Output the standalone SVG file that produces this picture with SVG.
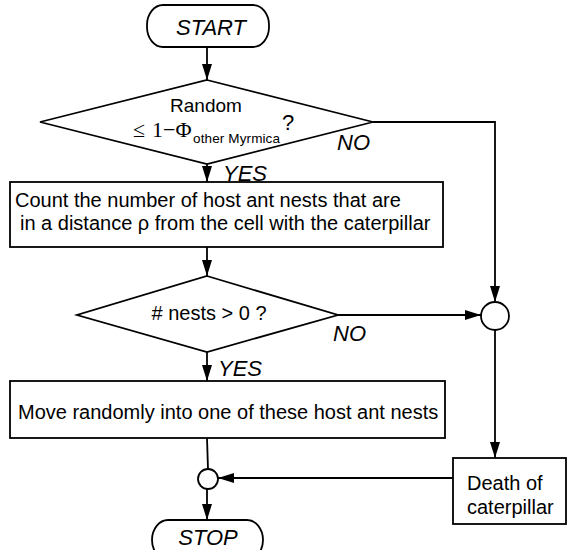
<svg xmlns="http://www.w3.org/2000/svg" width="568" height="550" viewBox="0 0 568 550">
<defs>
<style>
.shape{fill:#fff;stroke:#000;stroke-width:1.8}
.line{fill:none;stroke:#000;stroke-width:1.8}
.t{font-family:"Liberation Sans",Arial,sans-serif;font-size:20px;fill:#000}
.lbl{font-family:"Liberation Sans",Arial,sans-serif;font-size:22px;font-style:italic;fill:#000}
.ser{font-family:"Liberation Serif","Times New Roman",serif;font-size:22px;fill:#000}
</style>
<marker id="ah" markerUnits="userSpaceOnUse" markerWidth="16" markerHeight="11" refX="16" refY="5" orient="auto">
<path d="M0,0 L16,5 L0,10 z" fill="#000"/>
</marker>
</defs>
<rect width="568" height="550" fill="#fff"/>
<g id="connectors">
<line class="line" x1="207" y1="47" x2="207" y2="80" marker-end="url(#ah)"/>
<line class="line" x1="207" y1="164" x2="207" y2="182" marker-end="url(#ah)"/>
<polyline class="line" points="373,122 495,122 495,302" marker-end="url(#ah)"/>
<line class="line" x1="207" y1="247" x2="207" y2="276" marker-end="url(#ah)"/>
<line class="line" x1="338" y1="315" x2="481" y2="315" marker-end="url(#ah)"/>
<line class="line" x1="207" y1="352" x2="207" y2="381" marker-end="url(#ah)"/>
<line class="line" x1="495" y1="329" x2="495" y2="458" marker-end="url(#ah)"/>
<line class="line" x1="207" y1="438" x2="208" y2="469"/>
<line class="line" x1="453" y1="478" x2="218" y2="478" marker-end="url(#ah)"/>
<line class="line" x1="207" y1="489" x2="207" y2="520" marker-end="url(#ah)"/>
<text class="lbl" x="337" y="150">NO</text>
<text class="lbl" x="223" y="181">YES</text>
<text class="lbl" x="333" y="341">NO</text>
<text class="lbl" x="218" y="376">YES</text>
</g>
<g id="start">
<rect class="shape" x="147" y="5" width="122" height="42" rx="16" ry="20"/>
<text class="lbl" x="211" y="35" text-anchor="middle">START</text>
</g>
<g id="decision1">
<polygon class="shape" points="207,80 373,122 207,164 40,122"/>
<text class="t" x="206" y="112" text-anchor="middle" style="font-size:19px">Random</text>
<text class="ser" x="133" y="137">≤</text>
<text class="ser" x="152" y="137">1−Φ</text>
<text class="t" x="193" y="143" style="font-size:13.5px" textLength="87" lengthAdjust="spacing">other Myrmica</text>
<text class="t" x="282" y="130" style="font-size:22px">?</text>
</g>
<g id="count">
<rect class="shape" x="10" y="182" width="433" height="65"/>
<text class="t" x="15" y="207">Count the number of host ant nests that are</text>
<text class="t" x="20" y="230">in a distance ρ from the cell with the caterpillar</text>
</g>
<g id="decision2">
<polygon class="shape" points="207,276 338,315 207,352 77,315"/>
<text class="t" x="209" y="320" text-anchor="middle"># nests &gt; 0 ?</text>
</g>
<g id="junction1">
<circle class="shape" cx="495" cy="316" r="14"/>
</g>
<g id="move">
<rect class="shape" x="10" y="381" width="435" height="57"/>
<text class="t" x="18" y="419">Move randomly into one of these host ant nests</text>
</g>
<g id="death">
<rect class="shape" x="453" y="458" width="113" height="66"/>
<text class="t" x="467" y="490">Death of</text>
<text class="t" x="467" y="514">caterpillar</text>
</g>
<g id="junction2">
<circle class="shape" cx="208" cy="479" r="10"/>
</g>
<g id="stop">
<rect class="shape" x="152" y="520" width="111" height="40" rx="16" ry="20"/>
<text class="lbl" x="208" y="545" text-anchor="middle">STOP</text>
</g>
</svg>
